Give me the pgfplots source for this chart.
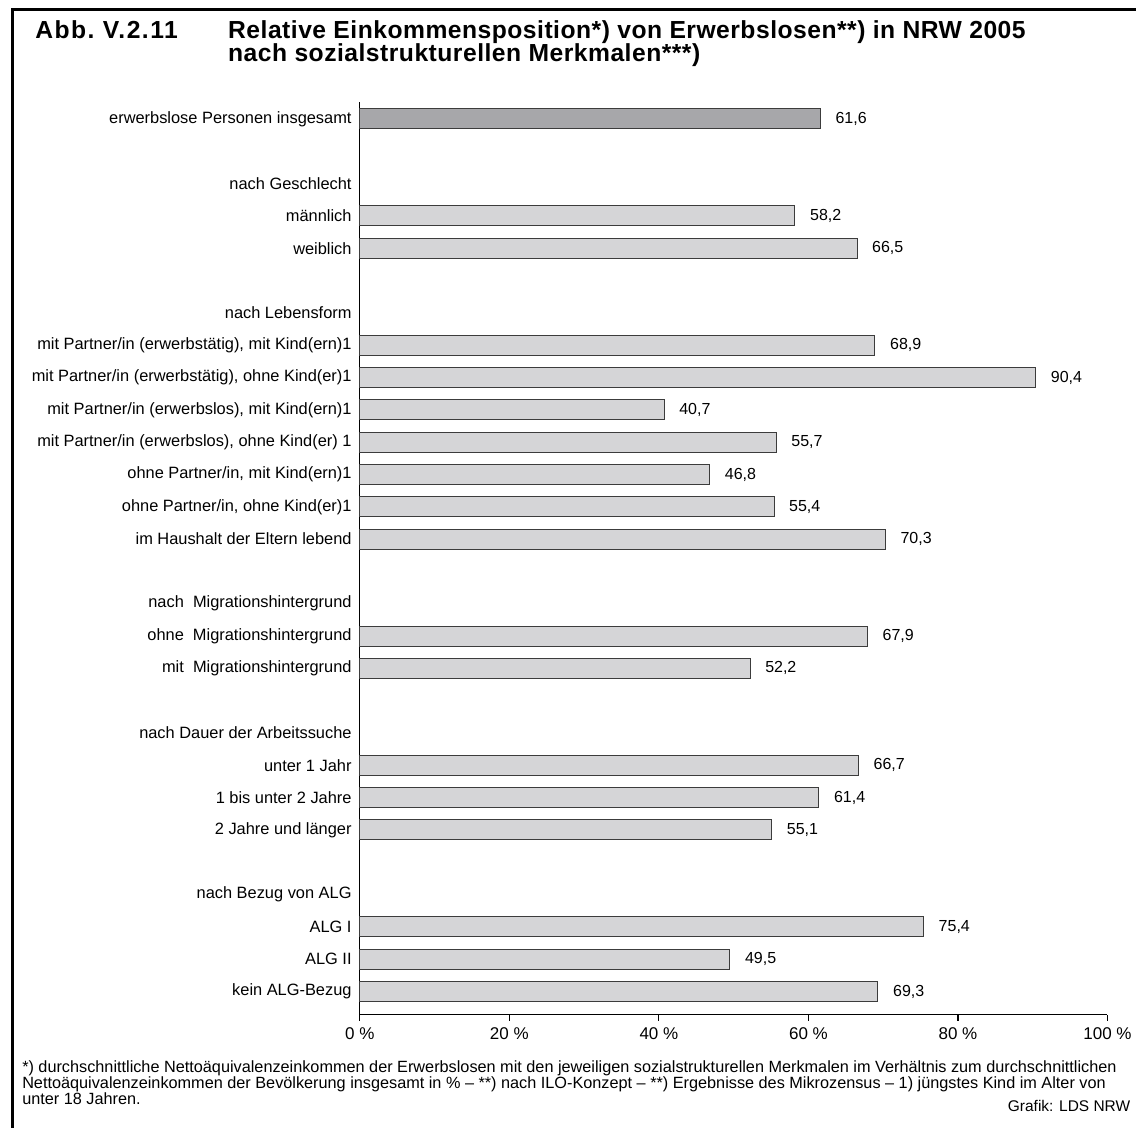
\documentclass[border=0pt]{standalone}
\usepackage{pgfplots}
\pgfplotsset{compat=1.18}
\usepackage{fontspec}
\setmainfont{Liberation Sans}
\newfontfamily\titlefont[LetterSpace=2]{Liberation Sans}
\newfontfamily\abbfont[LetterSpace=6]{Liberation Sans}
\definecolor{bardark}{RGB}{167,167,170}
\definecolor{barlight}{RGB}{213,213,215}
\definecolor{baredge}{RGB}{60,60,60}
\begin{document}
\begin{tikzpicture}
\begin{scope}[x=0.75pt,y=-0.75pt]
\path[use as bounding box] (0,0) rectangle (1136,1128);
\draw[line width=2.25pt] (13,1130) -- (13,10) -- (1138,10);
\node[anchor=base west,inner sep=0pt,font=\abbfont\bfseries\fontsize{18.5}{22}\selectfont] at (35,39) {Abb.\ V.2.11};
\node[anchor=base west,inner sep=0pt,font=\titlefont\bfseries\fontsize{18.5}{22}\selectfont] at (228,39) {Relative Einkommensposition*) von Erwerbslosen**) in NRW 2005};
\node[anchor=base west,inner sep=0pt,font=\titlefont\bfseries\fontsize{18.5}{22}\selectfont] at (228,62) {nach sozialstrukturellen Merkmalen***)};
\node[anchor=base west,inner sep=0pt,font=\fontsize{12.2}{14}\selectfont] at (22,1073) {*) durchschnittliche Nettoäquivalenzeinkommen der Erwerbslosen mit den jeweiligen sozialstrukturellen Merkmalen im Verhältnis zum durchschnittlichen};
\node[anchor=base west,inner sep=0pt,font=\fontsize{12.2}{14}\selectfont] at (22,1089) {Nettoäquivalenzeinkommen der Bevölkerung insgesamt in \% – **) nach ILO-Konzept – **) Ergebnisse des Mikrozensus – 1) jüngstes Kind im Alter von};
\node[anchor=base west,inner sep=0pt,font=\fontsize{12.2}{14}\selectfont] at (22,1105) {unter 18 Jahren.};
\node[anchor=base east,inner sep=0pt,font=\fontsize{11.6}{14}\selectfont] at (1131,1112) {Grafik: LDS NRW};
\end{scope}
\begin{axis}[
  at={(270pt,-761.25pt)}, anchor=south west,
  scale only axis, width=561pt, height=684.75pt,
  xbar, bar width=15pt, bar shift=0pt,
  xmin=0, xmax=100, ymin=-27.71, ymax=0.526,
  axis x line=bottom, axis y line=left,
  axis line style={-, line width=0.75pt, black},
  tick align=outside, major tick length=4.5pt,
  xtick={0,20,40,60,80,100},
  xticklabels={0 \%,20 \%,40 \%,60 \%,80 \%,100 \%},
  xtick style={black, line width=0.9pt},
  xticklabel style={font=\fontsize{12.75}{14}\selectfont, yshift=-2pt},
  ytick={0,-2,-3,-4,-6,-7,-8,-9,-10,-11,-12,-13,-15,-16,-17,-19,-20,-21,-22,-24,-25,-26,-27},
  yticklabels={erwerbslose Personen insgesamt,nach Geschlecht,männlich,weiblich,nach Lebensform,
    {mit Partner/in (erwerbstätig), mit Kind(ern)1},
    {mit Partner/in (erwerbstätig), ohne Kind(er)1},
    {mit Partner/in (erwerbslos), mit Kind(ern)1},
    {mit Partner/in (erwerbslos), ohne Kind(er) 1},
    {ohne Partner/in, mit Kind(ern)1},
    {ohne Partner/in, ohne Kind(er)1},
    im Haushalt der Eltern lebend,
    nach~ Migrationshintergrund,ohne~ Migrationshintergrund,mit~ Migrationshintergrund,
    nach Dauer der Arbeitssuche,unter 1 Jahr,1 bis unter 2 Jahre,2 Jahre und länger,
    nach Bezug von ALG,ALG I,ALG II,kein ALG-Bezug},
  ytick style={draw=none},
  yticklabel style={font=\fontsize{12.3}{14}\selectfont, inner sep=0pt, xshift=-1.5pt},
  nodes near coords,
  nodes near coords style={anchor=west, inner sep=0pt, xshift=11pt, font=\fontsize{12}{14}\selectfont, black},
  /pgf/number format/use comma,
  /pgf/number format/fixed,
  /pgf/number format/fixed zerofill,
  /pgf/number format/precision=1,
  /pgf/number format/assume math mode=true,
  clip=false,
]
\addplot[fill=bardark, draw=baredge, line width=0.75pt] coordinates {(61.6,0)};
\addplot[fill=barlight, draw=baredge, line width=0.75pt] coordinates {
(58.2,-3) (66.5,-4)
(68.9,-7) (90.4,-8) (40.7,-9) (55.7,-10) (46.8,-11) (55.4,-12) (70.3,-13)
(67.9,-16) (52.2,-17)
(66.7,-20) (61.4,-21) (55.1,-22)
(75.4,-25) (49.5,-26) (69.3,-27)};
\end{axis}
\end{tikzpicture}
\end{document}
